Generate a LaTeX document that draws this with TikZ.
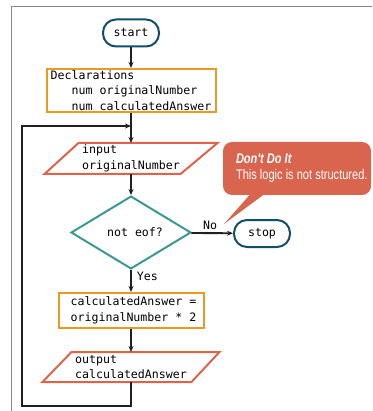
\documentclass[tikz,border=0pt]{standalone}
\usepackage{fontspec}
\setmainfont{Liberation Sans}
\newfontfamily\codefont{DejaVu Sans Mono}
\newfontfamily\callfont[FakeStretch=0.79]{Liberation Sans}
\usetikzlibrary{shapes.geometric,arrows.meta}
\definecolor{framegray}{HTML}{8C8582}
\definecolor{termblue}{HTML}{124E6C}
\definecolor{procorange}{HTML}{E89B22}
\definecolor{ioorange}{HTML}{DD6448}
\definecolor{decteal}{HTML}{3A9A93}
\definecolor{callred}{HTML}{D9654E}
\definecolor{lineblack}{HTML}{231F20}
\newcommand\flowcode{\codefont\fontsize{11.6}{15.5}\selectfont}
\begin{document}
\begin{tikzpicture}[x=1pt,y=-1pt,
  term/.style={draw=termblue, line width=2pt, rounded corners=13pt, minimum width=56pt, minimum height=27pt, inner sep=0pt, font=\flowcode},
  proc/.style={draw=procorange, line width=2pt, align=left, inner xsep=4pt, inner ysep=0pt, font=\flowcode},
  iotext/.style={align=left, inner sep=0pt, outer sep=0pt, font=\flowcode},
  iobox/.style={draw=ioorange, line width=2pt, line join=miter},
  dec/.style={diamond, draw=decteal, line width=2pt, minimum width=120pt, minimum height=69pt, inner sep=0pt, font=\flowcode},
  flowline/.style={draw=lineblack, line width=1.9pt, -{Stealth[length=6pt,width=5pt]}},
  flowlabel/.style={font=\flowcode, inner sep=1pt},
  callbox/.style={fill=callred, rounded corners=9pt, minimum width=148pt, minimum height=53pt, inner sep=0pt},
  calltext/.style={text=white, align=left, inner sep=0pt, font=\callfont\fontsize{14}{16}\selectfont}
]
\useasboundingbox (0,0) rectangle (372,411);
% frame
\draw[framegray, line width=1pt] (372,7) -- (11,7) -- (11,411);

% nodes
\node[term] (start) at (131,33) {start};
\node[proc, minimum width=169pt, minimum height=43pt] (decl) at (131,90.5)
  {\fontsize{11.6}{13}\selectfont Declarations\\\hspace*{21pt}num originalNumber\\\hspace*{21pt}num calculatedAnswer};
\node[iotext, minimum width=173pt, minimum height=31pt] (inp) at (131,158.5) {input\\originalNumber};
\draw[iobox] (inp.south west) -- ([xshift=-37pt]inp.south east) -- (inp.north east) -- ([xshift=34pt]inp.north west) -- cycle;
\node[dec] (dia) at (131,232.5) {\hspace*{8pt}not eof?};
\node[term] (stop) at (262,233.5) {stop};
\node[proc, minimum width=145pt, minimum height=35pt] (calc) at (131,310.5)
  {\hspace*{5pt}calculatedAnswer =\\\hspace*{5pt}originalNumber * 2};
\node[iotext, minimum width=177pt, minimum height=30pt] (out) at (131,367) {output\\calculatedAnswer};
\draw[iobox] (out.south west) -- ([xshift=-28pt]out.south east) -- (out.north east) -- ([xshift=29pt]out.north west) -- cycle;

% callout
\coordinate (tip) at (224,224);
\node[callbox] (callout) at (297,168.5) {};
\fill[callred] ([shift={(-45,-3)}]callout.south) -- (tip) -- ([shift={(-30,-3)}]callout.south) -- cycle;
\node[calltext, anchor=west] (callmsg) at ([xshift=13pt,yshift=0pt]callout.west)
  {{\bfseries\itshape Don't Do It}\\This logic is not structured.};

% connectors
\coordinate (join) at (131,126);
\coordinate (loopbl) at (22,406);
\draw[flowline] (start) -- (decl);
\draw[flowline] (decl) -- (inp);
\draw[flowline] (inp) -- (dia);
\draw[flowline] (dia) -- node[flowlabel, pos=0.3, anchor=west, xshift=4pt] (yes) {Yes} (calc);
\draw[flowline] (calc) -- (out);
\draw[flowline] (dia) -- node[flowlabel, pos=0.45, anchor=south, yshift=1pt] (no) {No} (stop);
\draw[flowline] (out.south) |- (loopbl) |- (join);
\end{tikzpicture}
\end{document}
